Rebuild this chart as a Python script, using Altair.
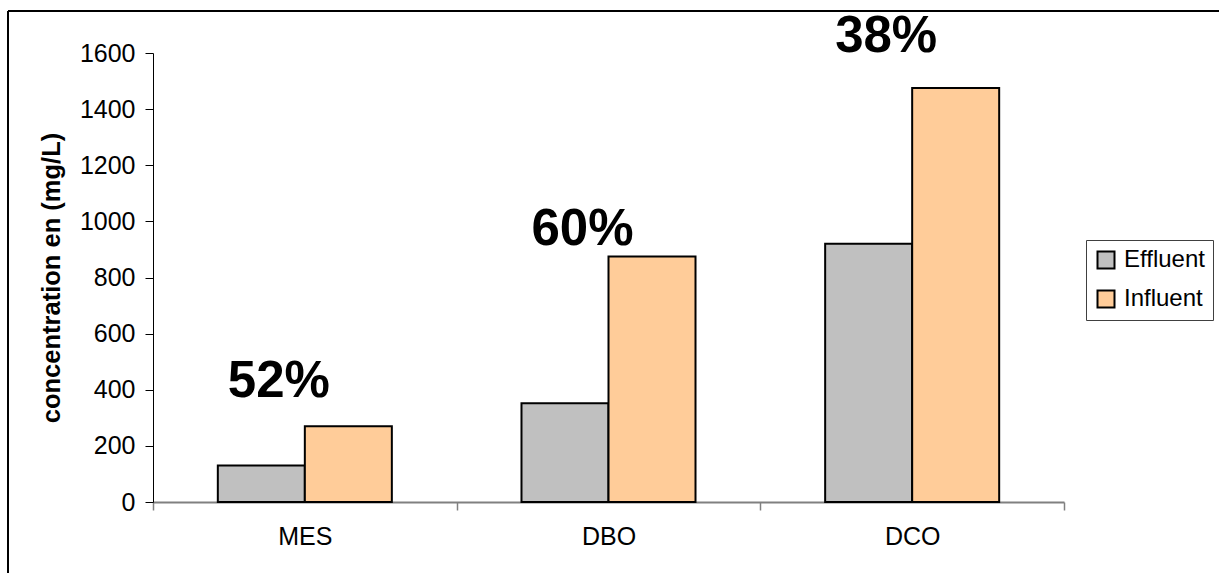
import altair as alt
import pandas as pd

# Pollutant concentrations before (Influent) and after (Effluent) treatment, mg/L
categories = ["MES", "DBO", "DCO"]
effluent = [130, 352, 920]
influent = [270, 875, 1475]
series = ["Effluent", "Influent"]
series_colors = ["#c0c0c0", "#ffcc99"]

# Removal efficiency printed above each pair, and the height (mg/L) of its baseline
reduction_labels = ["52%", "60%", "38%"]
label_heights = [374, 916, 1605]

y_ticks = [0, 200, 400, 600, 800, 1000, 1200, 1400, 1600]

FONT = "Liberation Sans"

rows = []
for cat, e, i in zip(categories, effluent, influent):
    rows.append({"param": cat, "serie": "Effluent", "conc": e})
    rows.append({"param": cat, "serie": "Influent", "conc": i})
bars_df = pd.DataFrame(rows)

labels_df = pd.DataFrame(
    {"param": categories, "label": reduction_labels, "h": label_heights}
)

# Bands fill the whole axis so that ticks fall on the category boundaries;
# the pair of bars sits in the middle of each band.
x_enc = alt.X(
    "param:N",
    sort=categories,
    scale=alt.Scale(paddingInner=0, paddingOuter=0),
    axis=alt.Axis(
        title=None,
        labelAngle=0,
        labelFont=FONT,
        labelFontSize=25,
        labelColor="#000000",
        labelPadding=14,
        tickBand="extent",
        tickSize=8,
        tickColor="#808080",
        tickWidth=1.5,
        domainColor="#808080",
        domainWidth=2,
    ),
)

y_scale = alt.Scale(domain=[0, 1600], nice=False)

bars = (
    alt.Chart(bars_df)
    .mark_bar(stroke="#000000", strokeWidth=2)
    .encode(
        x=x_enc,
        xOffset=alt.XOffset(
            "serie:N",
            sort=series,
            scale=alt.Scale(paddingInner=0, paddingOuter=0.745),
        ),
        y=alt.Y(
            "conc:Q",
            scale=y_scale,
            axis=alt.Axis(
                values=y_ticks,
                format="d",
                title="concentration en (mg/L)",
                titleFont=FONT,
                titleFontSize=25.5,
                titleFontWeight="bold",
                titleColor="#000000",
                titlePadding=15,
                labelFont=FONT,
                labelFontSize=25,
                labelColor="#000000",
                labelPadding=10,
                tickSize=8,
                tickColor="#000000",
                domainColor="#000000",
                domainWidth=1,
                grid=False,
            ),
        ),
        color=alt.Color(
            "serie:N",
            sort=series,
            scale=alt.Scale(domain=series, range=series_colors),
            legend=alt.Legend(
                title=None,
                orient="none",
                legendX=933,
                legendY=187,
                padding=8,
                strokeColor="#404040",
                fillColor="#ffffff",
                symbolType="square",
                symbolSize=289,
                symbolStrokeColor="#000000",
                symbolStrokeWidth=2,
                symbolOpacity=1,
                labelFont=FONT,
                labelFontSize=24,
                labelColor="#000000",
                labelOffset=6,
                rowPadding=13,
            ),
        ),
    )
)

labels = (
    alt.Chart(labels_df)
    .mark_text(
        font=FONT,
        fontSize=51,
        fontWeight="bold",
        color="#000000",
        align="center",
        baseline="alphabetic",
        dx=-26,
    )
    .encode(
        x=alt.X("param:N", sort=categories),
        y=alt.Y("h:Q", scale=y_scale),
        text="label:N",
    )
)

# Outer frame: top and left edges of the chart border
frame_df = pd.DataFrame({"k": [0]})
frame_top = (
    alt.Chart(frame_df)
    .mark_rule(color="#000000", strokeWidth=2)
    .encode(x=alt.value(-145), x2=alt.value(1066), y=alt.value(-42))
)
frame_left = (
    alt.Chart(frame_df)
    .mark_rule(color="#000000", strokeWidth=2)
    .encode(x=alt.value(-145), y=alt.value(-42), y2=alt.value(520))
)

chart = (
    alt.layer(bars, labels, frame_top, frame_left)
    .properties(
        width=911,
        height=449,
        autosize=alt.AutoSizeParams(type="none"),
        padding={"left": 153, "top": 53, "right": 155, "bottom": 71},
        background="#ffffff",
    )
    .configure_view(stroke=None)
)

chart.save("out.html", embed_options={"renderer": "svg", "actions": False})
